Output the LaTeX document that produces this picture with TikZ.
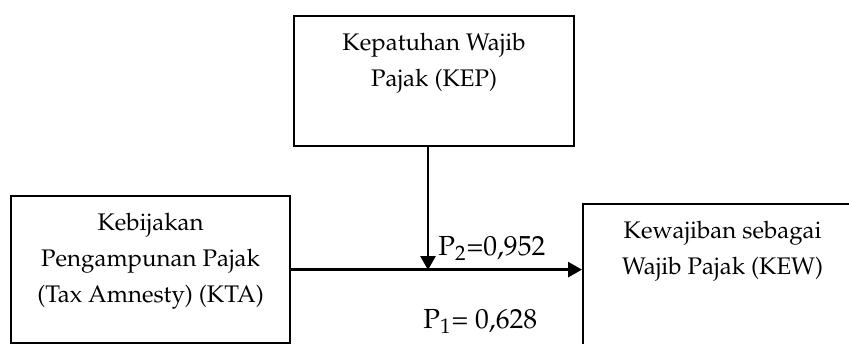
\documentclass[tikz,border=0pt]{standalone}
\usepackage[T1]{fontenc}
\usepackage{mathpazo}
\usetikzlibrary{arrows.meta}

\tikzset{
  kotak/.style={draw, line width=1.1pt, inner sep=0pt, anchor=north west},
  panah/.style={line width=1.4pt, -{Triangle[length=7pt,width=7.5pt]}},
  nilai/.style={anchor=base west, inner sep=0pt, font=\fontsize{13.8}{16}\selectfont}
}
% isi kotak: lebar, tinggi, teks
\newcommand{\isikotak}[3]{\parbox[c][#2][t]{#1}{\centering\fontsize{12}{18}\selectfont\vspace*{8.3pt}#3\par}}

\begin{document}
\begin{tikzpicture}[x=0.5pt,y=-0.5pt]
    \useasboundingbox (0,0) rectangle (849,343);

    \node[kotak] (kep) at (293,15) {\isikotak{140pt}{65pt}{Kepatuhan Wajib\\Pajak (KEP)}};
    \node[kotak] (kta) at (10,195) {\isikotak{139.5pt}{73.5pt}{Kebijakan\\Pengampunan Pajak\\(Tax Amnesty) (KTA)}};
    \node[kotak] (kew) at (582,203) {\isikotak{139.5pt}{73.5pt}{Kewajiban sebagai\\Wajib Pajak (KEW)}};

    \coordinate (temu) at (428,270);
    \draw[panah] (kep.south -| temu) -- (temu);
    \draw[panah] (kta.east) -- (kta.east -| kew.west);

    \node[nilai] (p2) at (438,255) {P\textsubscript{2}=0,952};
    \node[nilai] (p1) at (423,328) {P\textsubscript{1}= 0,628};
\end{tikzpicture}
\end{document}
